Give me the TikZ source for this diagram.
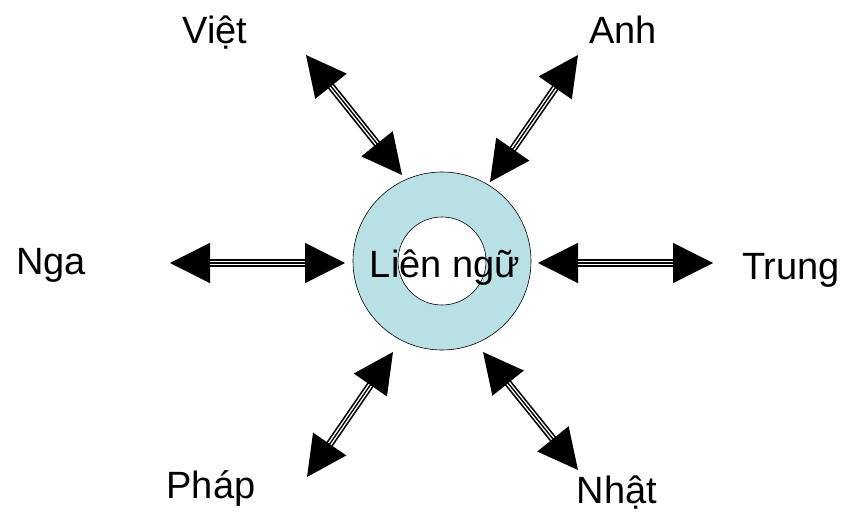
\documentclass[tikz,border=0pt]{standalone}
\usepackage{fontspec}
\setmainfont{Liberation Sans}
\usetikzlibrary{arrows.meta}

\definecolor{ringfill}{RGB}{185,224,228}

\begin{document}
\begin{tikzpicture}[x=1pt,y=-1pt]
\tikzset{lang/.style={anchor=base, inner sep=0pt, font=\fontsize{38}{38}\selectfont},
  link/.style={line width=1.4pt, {Triangle[length=40pt,width=40pt]}-{Triangle[length=40pt,width=40pt]},
    preaction={draw, -, line width=7.5pt, shorten <=39pt, shorten >=39pt},
    preaction={draw, -, white, line width=4.2pt, shorten <=38pt, shorten >=38pt}}}
\useasboundingbox (0,0) rectangle (846,513);

% the ring in the middle
\node (ring) [circle, draw, line width=0.6pt, fill=ringfill, minimum size=178pt, inner sep=0pt] at (442,261) {};
\node (hole) [circle, draw, line width=0.6pt, fill=white, minimum size=88pt, inner sep=0pt] at (ring) {};
\node (lien) [lang, font=\fontsize{38}{38}\selectfont] at (445,277) {Liên ngữ};

% languages round it
\node (viet)  [lang] at (215,44)  {Việt};
\node (anh)   [lang] at (623,44)  {Anh};
\node (nga)   [lang] at (51,274)  {Nga};
\node (trung) [lang] at (791,279) {Trung};
\node (phap)  [lang] at (211,498) {Pháp};
\node (nhat)  [lang] at (617,503) {Nhật};

\coordinate (viet-a)  at (306,55);  \coordinate (viet-b)  at (402,175);
\coordinate (anh-a)   at (578,55);  \coordinate (anh-b)   at (490,182);
\coordinate (nga-a)   at (170,263); \coordinate (nga-b)   at (345,263);
\coordinate (trung-a) at (713,263); \coordinate (trung-b) at (538,263);
\coordinate (phap-a)  at (307,477); \coordinate (phap-b)  at (393,352);
\coordinate (nhat-a)  at (578,470); \coordinate (nhat-b)  at (483,352);

\foreach \l in {viet,anh,nga,trung,phap,nhat}
  \draw[link] (\l-a) -- (\l-b);

\end{tikzpicture}
\end{document}
